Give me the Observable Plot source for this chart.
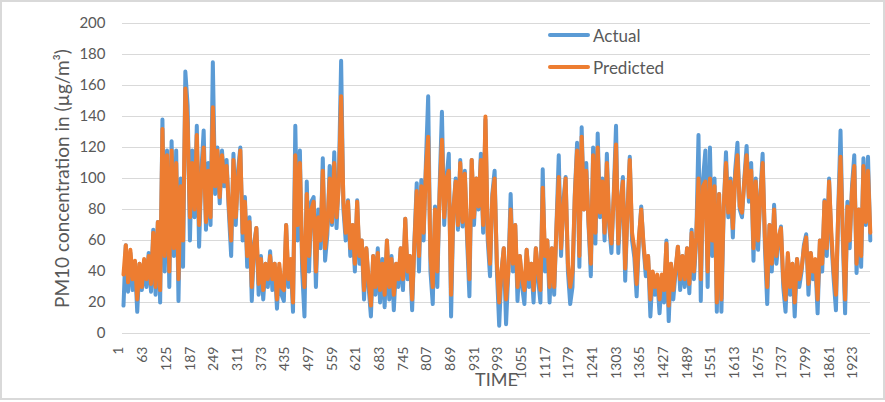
<!DOCTYPE html>
<html><head><meta charset="utf-8">
<script src="https://cdn.jsdelivr.net/npm/d3@7"></script>
<script src="https://cdn.jsdelivr.net/npm/@observablehq/plot@0.6"></script>
<style>
body{margin:0;background:#fff;font-family:Lato,"Open Sans",sans-serif;}
#wrap{position:relative;width:885px;height:402px;overflow:hidden;background:#fff;}
#frame{position:absolute;left:0;top:0;width:881px;height:396px;border:2px solid #d9d9d9;pointer-events:none;}
.leg{position:absolute;left:548px;height:20px;display:flex;align-items:center;font-size:17px;color:#595959;}
.leg span.sw{display:inline-block;width:42px;height:4px;border-radius:2px;margin-right:3px;}
</style></head>
<body>
<div id="wrap">
  <div id="chart"></div>
  <div class="leg" style="top:25px"><span class="sw" style="background:#5B9BD5"></span>Actual</div>
  <div class="leg" style="top:57px"><span class="sw" style="background:#ED7D31"></span>Predicted</div>
  <div id="frame"></div>
</div>
<script>
// Time index: one sampled value every 6 steps, starting at 1
const timeStep = 6;
const actual = [
18,57,27,52,28,45,14,45,28,46,30,52,27,67,25,72,20,
138,40,118,30,124,50,118,21,100,43,
169,147,60,118,75,134,56,105,131,67,
110,70,175,90,120,84,118,95,112,78,
50,116,70,105,120,60,88,43,75,21,
58,68,25,50,22,45,30,53,28,45,
16,42,25,21,70,30,45,14,134,60,
118,40,11,98,40,85,88,30,80,55,
113,47,64,108,70,117,68,100,176,80,
60,86,50,70,40,86,45,60,22,55,
30,11,50,25,55,
20,48,17,60,22,50,15,45,30,55,
28,74,35,50,15,60,97,40,99,60,
110,153,40,19,82,30,95,143,70,100,
116,11,80,100,67,112,69,105,60,24,
112,70,100,80,116,65,138,60,37,90,
105,40,5,40,55,6,40,90,40,70,
21,50,30,19,54,30,45,20,55,35,
20,106,40,60,20,55,25,70,115,50,
85,101,40,19,30,90,123,43,133,80,
110,70,37,120,58,129,75,100,60,116,
70,52,90,134,
52,82,101,34,80,114,60,49,24,60,
82,56,37,50,11,39,25,35,13,35,
20,60,8,45,22,40,56,28,50,30,
55,26,67,35,60,128,21,100,118,30,
120,50,100,14,90,14,80,117,75,100,
62,105,123,80,75,100,121,85,110,47,
100,54,90,116,55,19,70,40,83,45,
60,69,30,14,50,25,45,11,48,30,
40,57,64,25,52,35,45,13,60,40,
86,50,100,60,35,15,80,131,60,13,
85,55,95,115,39,80,43,113,70,114,60
];
const predicted = [
38,57,33,54,35,47,22,45,30,48,35,50,32,65,30,72,28,
132,50,115,40,118,55,110,35,95,60,
158,135,75,110,80,128,70,100,120,72,
105,75,146,95,118,88,115,98,108,82,
60,112,75,100,118,65,85,50,72,30,
55,68,32,48,28,45,35,50,35,45,
22,45,30,28,70,35,48,20,115,70,
110,50,30,90,50,80,85,40,75,60,
105,55,70,100,72,110,75,95,153,85,
65,85,55,70,45,85,50,60,28,55,
35,18,50,30,52,
28,45,25,60,30,48,25,45,35,55,
35,74,40,50,22,58,92,50,95,65,
105,127,50,30,80,40,90,125,75,100,
105,25,80,98,70,110,72,103,65,35,
112,75,100,82,112,70,140,65,45,88,
100,45,20,40,55,22,40,80,45,70,
30,50,35,28,54,35,45,28,55,40,
28,94,50,60,30,55,30,68,101,55,
80,100,45,30,40,88,118,50,127,80,
105,72,45,115,65,120,78,98,65,110,
72,58,88,122,
58,85,98,42,78,112,65,55,32,62,
80,58,42,50,22,40,30,38,22,38,
28,58,18,45,28,42,56,35,50,35,
55,32,65,40,62,100,35,95,98,40,
100,60,95,20,90,22,82,110,78,98,
68,100,115,82,78,98,115,88,105,55,
98,60,88,110,62,30,70,45,80,50,
62,68,35,22,52,30,45,20,48,35,
42,55,62,32,52,40,48,22,60,45,
85,55,98,65,40,25,78,114,65,22,
82,60,92,108,45,80,50,108,72,105,65
];
const xTickLabels = [1,63,125,187,249,311,373,435,497,559,621,683,745,807,869,931,993,1055,1117,1179,1241,1303,1365,1427,1489,1551,1613,1675,1737,1799,1861,1923];
const yTicks = [0,20,40,60,80,100,120,140,160,180,200];
const yTitle = "PM10 concentration in (µg/m³)";
const xTitle = "TIME";

const data = actual.map((a, i) => ({t: 1 + i * timeStep, actual: a, predicted: predicted[i]}));
const txt = "#595959";

const chart = Plot.plot({
  width: 885, height: 402,
  marginLeft: 122, marginRight: 15, marginTop: 23, marginBottom: 69,
  style: {fontFamily: "Lato, 'Open Sans', sans-serif", fontSize: "14px", color: txt, background: "transparent", overflow: "visible"},
  x: {domain: [-1.6, 1957.5], axis: null},
  y: {domain: [0, 200], axis: null},
  marks: [
    Plot.gridY(yTicks, {stroke: "#d9d9d9", strokeOpacity: 1, strokeWidth: 1}),
    Plot.axisY(yTicks, {tickSize: 0, tickPadding: 17, label: null, fill: txt, fontSize: 15}),
    Plot.text(xTickLabels, {x: d => d, text: d => String(d), frameAnchor: "bottom", rotate: -90, textAnchor: "end", dy: 13, fill: txt, fontSize: 14}),
    Plot.line(data, {x: "t", y: "actual", stroke: "#5B9BD5", strokeWidth: 4, strokeLinejoin: "round"}),
    Plot.line(data, {x: "t", y: "predicted", stroke: "#ED7D31", strokeWidth: 4, strokeLinejoin: "round"}),
    Plot.text([yTitle], {text: d => d, frameAnchor: "left", textAnchor: "middle", dx: -60, rotate: -90, fill: txt, fontSize: 19}),
    Plot.text([xTitle], {text: d => d, frameAnchor: "bottom", dy: 52, fill: txt, fontSize: 18})
  ]
});
document.getElementById("chart").appendChild(chart);
</script>
</body></html>
